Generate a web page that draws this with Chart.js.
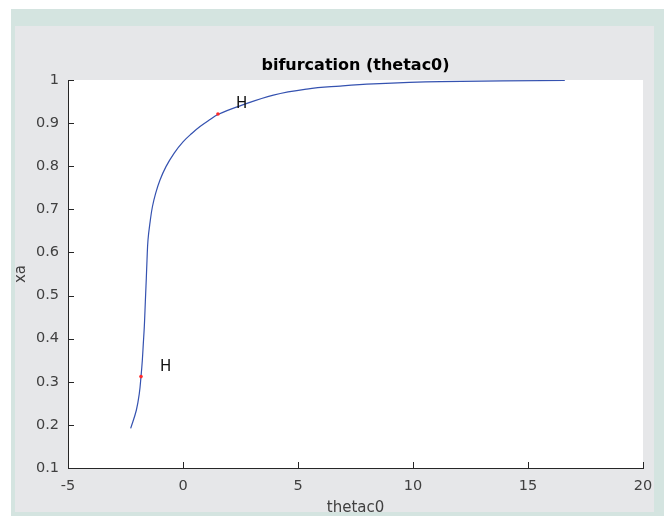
<!DOCTYPE html>
<html>
<head>
<meta charset="utf-8">
<script src="https://cdn.jsdelivr.net/npm/chart.js@4/dist/chart.umd.min.js"></script>
<style>
  html, body { margin: 0; padding: 0; background: #ffffff; }
  #wrap { width: 672px; height: 516px; }
</style>
</head>
<body>
<div id="wrap"><canvas id="c" width="672" height="516"></canvas></div>
<script>
// ---- data ----
const curveX = [-2.275, -2.029, -1.899, -1.826, -1.768, -1.725, -1.682, -1.652, -1.623, -1.595, -1.565, -1.522, -1.42, -1.33, -1.19, -1.00, -0.74, -0.39, 0.01, 0.38, 0.74, 1.14, 1.52, 2.48, 3.93, 5.38, 6.83, 8.28, 11.2, 16.6];
const curveY = [0.192, 0.234, 0.273, 0.312, 0.350, 0.389, 0.428, 0.466, 0.505, 0.540, 0.582, 0.629, 0.675, 0.706, 0.737, 0.768, 0.799, 0.830, 0.857, 0.876, 0.892, 0.907, 0.920, 0.940, 0.965, 0.979, 0.986, 0.991, 0.996, 0.999];
const hopfX = [-1.826, 1.52];
const hopfY = [0.312, 0.921];
const hopfLabelX = [-0.75, 2.55];
const hopfLabelY = [0.335, 0.945];
const hopfLabels = ['H', 'H'];
const xTickValues = [-5, 0, 5, 10, 15, 20];
const xTickLabels = ['-5', '0', '5', '10', '15', '20'];
const yTickValues = [0.1, 0.2, 0.3, 0.4, 0.5, 0.6, 0.7, 0.8, 0.9, 1];
const yTickLabels = ['0.1', '0.2', '0.3', '0.4', '0.5', '0.6', '0.7', '0.8', '0.9', '1'];
const titleText = 'bifurcation (thetac0)';
const xTitle = 'thetac0';
const yTitle = 'xa';

const FONT = '"DejaVu Sans", "Liberation Sans", sans-serif';

const curvePts = curveX.map((x, i) => ({x: x, y: curveY[i]}));
const hopfPts = hopfX.map((x, i) => ({x: x, y: hopfY[i]}));

const bgPlugin = {
  id: 'bg',
  beforeDraw(chart) {
    const ctx = chart.ctx;
    const a = chart.chartArea;
    ctx.save();
    ctx.fillStyle = '#ffffff';
    ctx.fillRect(0, 0, chart.width, chart.height);
    ctx.fillStyle = '#d4e4e0';
    ctx.fillRect(11, 9, 653, chart.height - 9);
    ctx.fillStyle = '#e6e7e9';
    ctx.fillRect(15, 26, 639, 486);
    ctx.fillStyle = '#ffffff';
    ctx.fillRect(a.left, a.top, a.right - a.left, a.bottom - a.top);
    ctx.restore();
  }
};

const tickPlugin = {
  id: 'inTicks',
  afterDraw(chart) {
    const ctx = chart.ctx;
    const xs = chart.scales.x, ys = chart.scales.y;
    const a = chart.chartArea;
    ctx.save();
    ctx.strokeStyle = '#262626';
    ctx.lineWidth = 1;
    ctx.beginPath();
    xs.ticks.forEach(t => {
      const px = Math.round(xs.getPixelForValue(t.value)) + 0.5;
      ctx.moveTo(px, a.bottom);
      ctx.lineTo(px, a.bottom - 6);
    });
    ys.ticks.forEach(t => {
      const py = Math.round(ys.getPixelForValue(t.value)) + 0.5;
      ctx.moveTo(a.left, py);
      ctx.lineTo(a.left + 6, py);
    });
    ctx.stroke();
    // title centred over the axes
    ctx.fillStyle = '#000000';
    ctx.font = 'bold 16px ' + FONT;
    ctx.textAlign = 'center';
    ctx.textBaseline = 'middle';
    ctx.fillText(titleText, (a.left + a.right) / 2, a.top - 14);
    // H labels
    ctx.fillStyle = '#111111';
    ctx.font = '15px ' + FONT;
    hopfLabels.forEach((s, i) => {
      ctx.fillText(s, xs.getPixelForValue(hopfLabelX[i]), ys.getPixelForValue(hopfLabelY[i]));
    });
    ctx.restore();
  }
};

new Chart(document.getElementById('c'), {
  type: 'scatter',
  data: {
    datasets: [
      {
        data: curvePts,
        showLine: true,
        borderColor: '#3552b0',
        borderWidth: 1.2,
        pointRadius: 0,
        tension: 0.4,
        fill: false,
        order: 2
      },
      {
        data: hopfPts,
        showLine: false,
        pointRadius: 1.8,
        pointBackgroundColor: '#ff2a2a',
        pointBorderWidth: 0,
        order: 1
      }
    ]
  },
  options: {
    responsive: false,
    animation: false,
    events: [],
    layout: { padding: { top: 80, left: 0, right: 29, bottom: 0 } },
    plugins: {
      legend: { display: false },
      tooltip: { enabled: false },
      title: { display: false }
    },
    scales: {
      x: {
        type: 'linear',
        min: -5, max: 20,
        afterFit(s) { s.height = 48; },
        afterBuildTicks(s) { s.ticks = xTickValues.map(v => ({value: v})); },
        ticks: {
          padding: 10,
          color: '#404040',
          font: { family: FONT, size: 14.5 },
          maxRotation: 0,
          callback(v) { const i = xTickValues.indexOf(v); return i >= 0 ? xTickLabels[i] : ''; }
        },
        grid: { display: false, drawTicks: false },
        border: { display: true, color: '#262626', width: 1 },
        title: {
          display: true, text: xTitle, color: '#404040',
          font: { family: FONT, size: 15 },
          padding: { top: 0, bottom: -1 }
        }
      },
      y: {
        type: 'linear',
        min: 0.1, max: 1,
        afterFit(s) { s.width = 68; },
        afterBuildTicks(s) { s.ticks = yTickValues.map(v => ({value: v})); },
        ticks: {
          padding: 9,
          color: '#404040',
          font: { family: FONT, size: 14.5 },
          callback(v) { const i = yTickValues.findIndex(t => Math.abs(t - v) < 1e-9); return i >= 0 ? yTickLabels[i] : ''; }
        },
        grid: { display: false, drawTicks: false },
        border: { display: true, color: '#262626', width: 1 },
        title: {
          display: true, text: yTitle, color: '#404040',
          font: { family: FONT, size: 15 },
          padding: { top: 12, bottom: 0 }
        }
      }
    }
  },
  plugins: [bgPlugin, tickPlugin]
});
</script>
</body>
</html>
